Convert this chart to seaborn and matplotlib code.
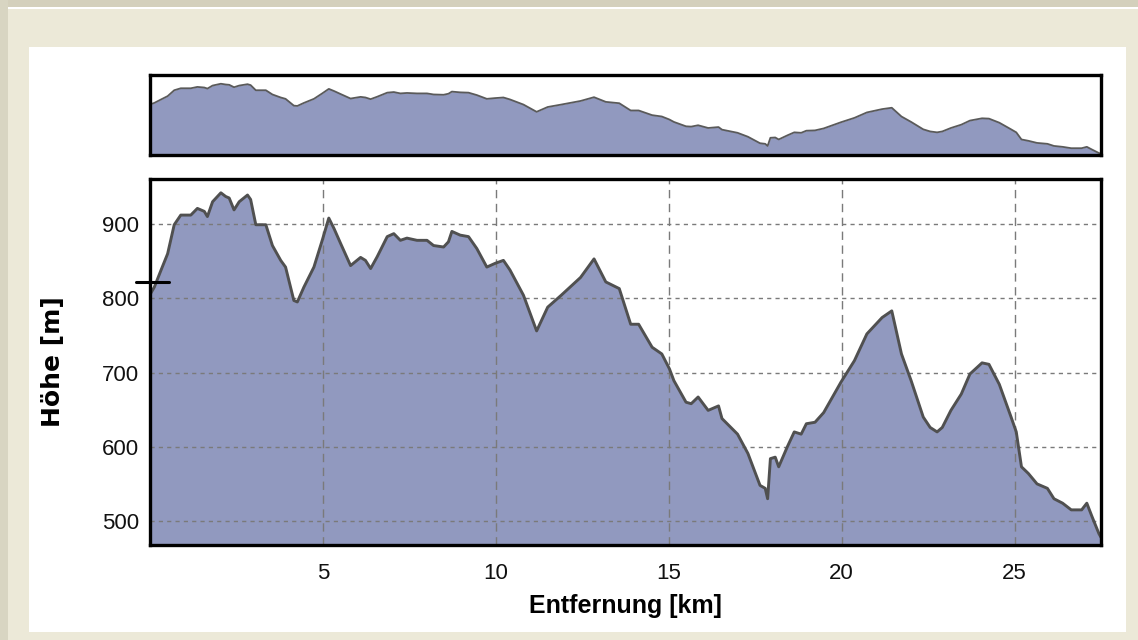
"""Höhenprofil: Übersicht oben, Detailprofil unten."""

import matplotlib
import matplotlib.pyplot as plt
import seaborn as sns
from matplotlib.patches import Rectangle

matplotlib.use("Agg")

# Streckenprofil
km = [
    0.0, 0.125, 0.32, 0.51, 0.70, 0.89, 1.18, 1.37, 1.57, 1.66, 1.81, 2.05,
    2.19, 2.29, 2.43, 2.58, 2.82, 2.91, 3.06, 3.35, 3.54, 3.78, 3.92, 4.16,
    4.26, 4.45, 4.74, 4.98, 5.17, 5.32, 5.51, 5.8, 6.09, 6.23, 6.38, 6.57,
    6.86, 7.05, 7.24, 7.43, 7.72, 8.01, 8.2, 8.49, 8.63, 8.73, 8.97, 9.21,
    9.45, 9.74, 9.98, 10.22, 10.41, 10.8, 11.18, 11.5, 11.89, 12.45, 12.84,
    13.18, 13.57, 13.9, 14.13, 14.52, 14.8, 15.02, 15.15, 15.5, 15.65, 15.85,
    16.14, 16.44, 16.54, 16.99, 17.29, 17.64, 17.79, 17.86, 17.94, 18.08,
    18.18, 18.43, 18.63, 18.83, 18.98, 19.23, 19.48, 19.98, 20.37, 20.73,
    21.17, 21.45, 21.73, 22.01, 22.36, 22.56, 22.76, 22.91, 23.16, 23.46,
    23.71, 24.06, 24.26, 24.56, 24.9, 25.05, 25.2, 25.4, 25.65, 25.95, 26.14,
    26.39, 26.64, 26.94, 27.09, 27.24, 27.44, 27.5,
]
hoehe = [
    805, 815, 838, 860, 899, 912, 912, 921, 917, 910, 930, 942,
    937, 935, 919, 930, 939, 933, 899, 899, 871, 851, 842, 797,
    795, 815, 842, 878, 908, 894, 874, 844, 855, 851, 840, 856,
    883, 887, 878, 881, 878, 878, 871, 869, 876, 890, 885, 883,
    867, 842, 847, 851, 838, 804, 756, 788, 804, 828, 853,
    822, 813, 765, 765, 734, 725, 705, 689, 660, 658, 667,
    649, 655, 638, 617, 591, 548, 544, 530, 584, 586,
    573, 600, 620, 617, 631, 633, 646, 687, 716, 752,
    774, 783, 725, 689, 640, 626, 620, 626, 649, 671,
    698, 713, 711, 684, 640, 620, 573, 564, 550, 544, 530,
    524, 515, 515, 524, 506, 483, 478,
]
x_ticks = [5, 10, 15, 20, 25]
y_ticks = [500, 600, 700, 800, 900]
marker_hoehe = 822

FILL = "#9199bf"
LINE = "#505050"
BEIGE = "#ece9d8"
W, H = 1138, 640

sns.set_style("white")
plt.rcParams["font.family"] = ["Liberation Sans", "DejaVu Sans"]

fig = plt.figure(figsize=(W / 100, H / 100), dpi=100)
fig.patch.set_facecolor(BEIGE)


def px_box(x0, y0, x1, y1):
    return [x0 / W, 1 - y1 / H, (x1 - x0) / W, (y1 - y0) / H]


def bg_rect(x0, y0, x1, y1, color, z=-2):
    l, b, w, h = px_box(x0, y0, x1, y1)
    fig.add_artist(Rectangle((l, b), w, h, transform=fig.transFigure,
                             color=color, lw=0, zorder=z))


# Fensterrahmen und weisses Panel
bg_rect(0, 0, W, 7, "#d4d0bc")
bg_rect(0, 7, W, 9, "#ffffff")
bg_rect(0, 0, 8, H, "#d8d5c2")
bg_rect(29, 47, 1126, 632, "white")

# Schatten der Rahmen
bg_rect(152, 77, 1103, 157, "#b0b0b0", z=-1)
bg_rect(152, 181, 1103, 547, "#b0b0b0", z=-1)

ax_top = fig.add_axes(px_box(150, 75, 1101, 155))
ax = fig.add_axes(px_box(150, 179, 1101, 545))

# Übersicht
ax_top.set_facecolor("white")
ax_top.fill_between(km, hoehe, 0, color=FILL, lw=0, zorder=1)
sns.lineplot(x=km, y=hoehe, ax=ax_top, color="#5a5a5a", lw=1.3, zorder=2)
ax_top.set_xlim(0, 27.5)
ax_top.set_ylim(470, 1000)
ax_top.set_xticks([])
ax_top.set_yticks([])
ax_top.set_xlabel("")
ax_top.set_ylabel("")

# Detailprofil
ax.set_facecolor("white")
ax.fill_between(km, hoehe, 0, color=FILL, lw=0, zorder=1)
sns.lineplot(x=km, y=hoehe, ax=ax, color=LINE, lw=2.1, zorder=3)
ax.set_xlim(0, 27.5)
ax.set_ylim(467.7, 960.6)
ax.set_xticks(x_ticks)
ax.set_yticks(y_ticks)
ax.set_axisbelow(False)
ax.xaxis.grid(True, color="#7a7a7a", lw=1.0, linestyle=(0, (6, 4)), zorder=2)
ax.yaxis.grid(True, color="#7a7a7a", lw=1.0, linestyle=(0, (3, 3)), zorder=2)
ax.tick_params(axis="both", length=0, labelsize=16, colors="#111111")
ax.tick_params(axis="x", pad=13)
ax.tick_params(axis="y", pad=8)

ax.set_xlabel("Entfernung [km]", fontsize=18, fontweight="bold", color="black")
ax.xaxis.set_label_coords(0.5, -0.135)
ax.set_ylabel("Höhe [m]", fontsize=18, fontweight="bold", color="black",
              family=["DejaVu Sans"])
ax.yaxis.set_label_coords(-0.089, 0.5)

# Positionsmarke an der linken Achse
ax.plot([-0.4, 0.55], [marker_hoehe, marker_hoehe], color="black", lw=2.2,
        clip_on=False, zorder=5)

for a in (ax, ax_top):
    for s in a.spines.values():
        s.set_visible(True)
        s.set_color("black")
        s.set_linewidth(2.4)
        s.set_zorder(6)

fig.savefig("out.png", dpi=100, facecolor=BEIGE)
